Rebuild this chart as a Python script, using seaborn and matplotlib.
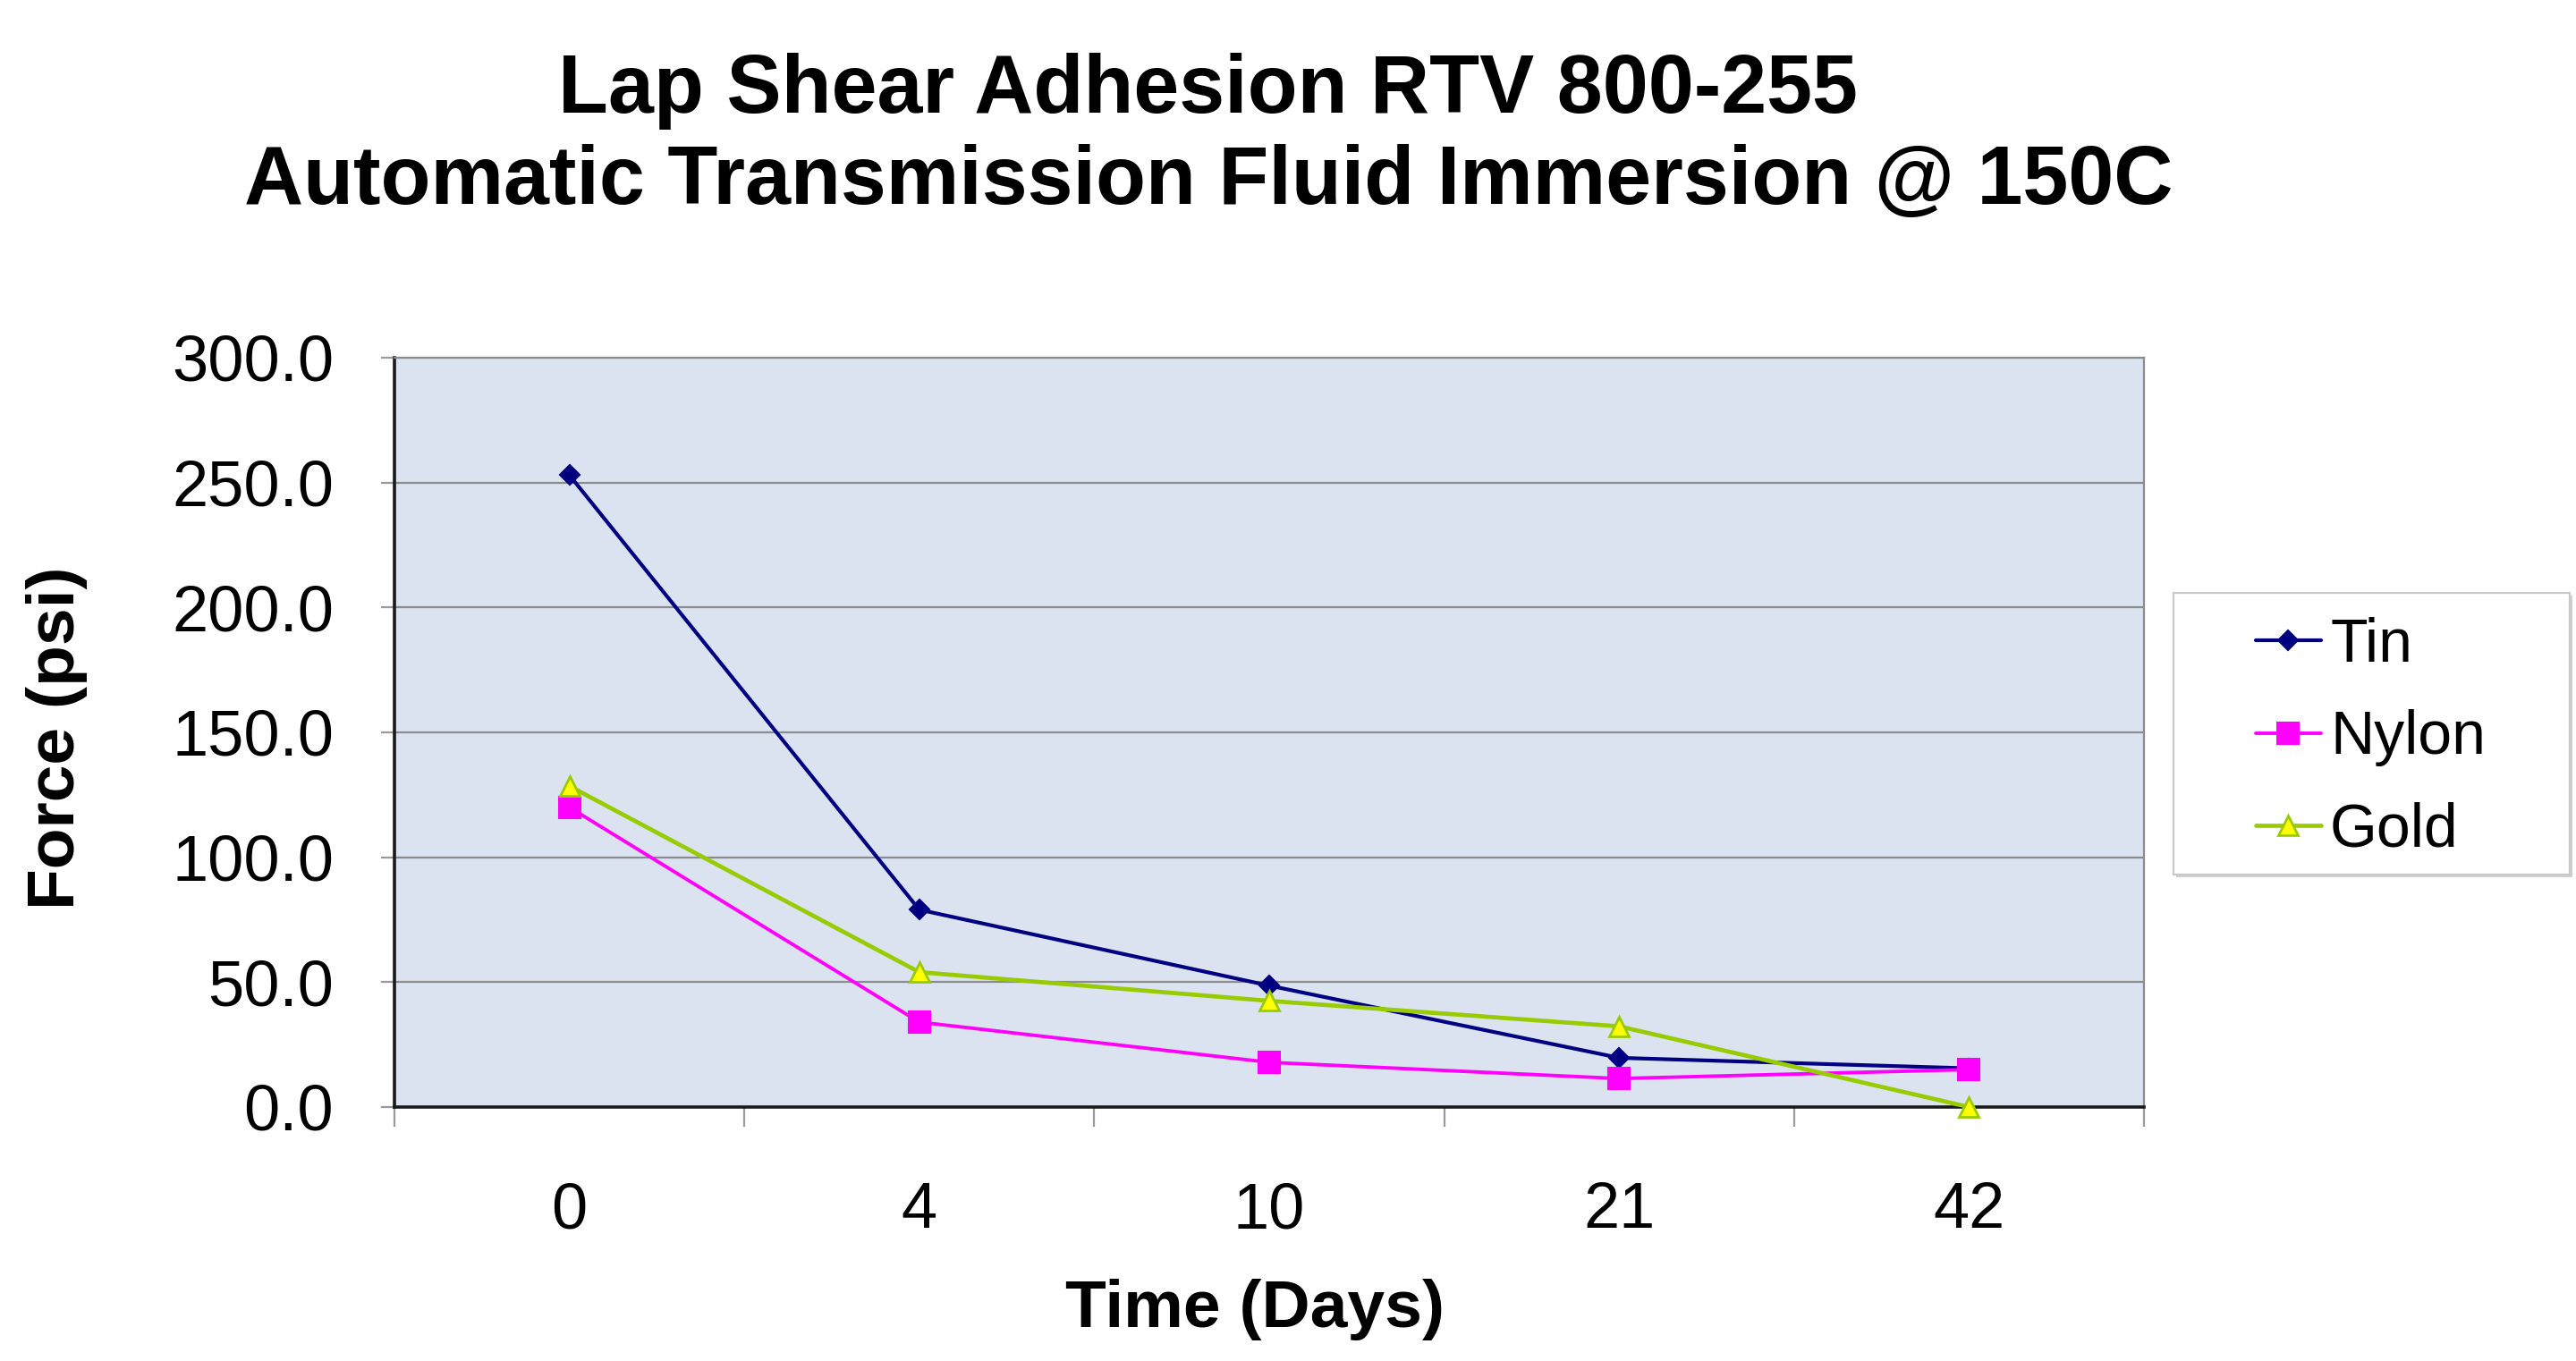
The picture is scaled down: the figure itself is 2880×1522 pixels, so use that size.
import numpy as np
import pandas as pd
import matplotlib
matplotlib.use("Agg")
import matplotlib.pyplot as plt
import seaborn as sns
from matplotlib.patches import Rectangle
from matplotlib.ticker import FixedLocator, NullFormatter, FixedFormatter

# ---- data ----
days = ["0", "4", "10", "21", "42"]
tin = [253.0, 79.0, 48.6, 19.7, 15.5]
nylon = [120.0, 34.0, 17.9, 11.4, 15.0]
gold = [128.5, 54.0, 42.5, 32.3, 0.0]
series_names = ["Tin", "Nylon", "Gold"]
y_ticks = [0, 50, 100, 150, 200, 250, 300]
title_text = "Lap Shear Adhesion RTV 800-255\nAutomatic Transmission Fluid Immersion @ 150C"
x_label = "Time (Days)"
y_label = "Force (psi)"

pos = np.arange(len(days))
df = pd.DataFrame({
    "pos": np.tile(pos, 3),
    "force": tin + nylon + gold,
    "series": np.repeat(series_names, len(days)),
})

sns.set_theme(style="white")
plt.rcParams['font.family'] = ['Liberation Sans', 'DejaVu Sans']
plt.rcParams['text.color'] = 'black'

fig = plt.figure(figsize=(14.4, 7.61), dpi=200)
ax = fig.add_axes([0.1531, 0.1866, 0.6792, 0.5506])
ax.set_facecolor('#DAE3EF')

styles = {
    "Tin": dict(color='#000080', marker='D', markersize=5.5, markerfacecolor='#000080',
                markeredgecolor='#000080', linewidth=1.5),
    "Nylon": dict(color='#FF00FF', marker='s', markersize=8.5, markerfacecolor='#FF00FF',
                  markeredgecolor='#FF00FF', linewidth=1.4),
    "Gold": dict(color='#99CC00', marker='^', markersize=8, markerfacecolor='#FFFF00',
                 markeredgecolor='#99CC00', markeredgewidth=1.0, linewidth=1.7),
}
for name in series_names:
    sub = df[df["series"] == name]
    sns.lineplot(data=sub, x="pos", y="force", ax=ax, legend=False, clip_on=False,
                 zorder=3, **styles[name])

ax.set_xlim(-0.5, len(days) - 0.5)
ax.set_ylim(0, 300)
ax.set_xlabel("")
ax.set_ylabel("")

ax.xaxis.set_major_locator(FixedLocator(np.arange(-0.5, len(days), 1.0)))
ax.xaxis.set_major_formatter(NullFormatter())
ax.xaxis.set_minor_locator(FixedLocator(pos))
ax.xaxis.set_minor_formatter(FixedFormatter(days))
ax.tick_params(axis='x', which='major', bottom=True, length=8, width=0.8,
               color='#9a9a9a', direction='out')
ax.tick_params(axis='x', which='minor', bottom=True, length=0, pad=30,
               labelsize=26, labelcolor='black')

ax.set_yticks(y_ticks)
ax.set_yticklabels([f"{v:.1f}" for v in y_ticks])
ax.tick_params(axis='y', left=True, length=5.4, width=0.8, color='#9a9a9a',
               direction='out', pad=19, labelsize=26, labelcolor='black')

ax.set_axisbelow(True)
ax.yaxis.grid(True, color='#8c8c8c', linewidth=0.8)
ax.xaxis.grid(False)

for side in ['left', 'bottom']:
    ax.spines[side].set_color('#1a1a1a')
    ax.spines[side].set_linewidth(1.3)
for side in ['top', 'right']:
    ax.spines[side].set_color('#8c8c8c')
    ax.spines[side].set_linewidth(0.8)

fig.text(0.469, 0.8995, title_text, ha='center', va='center', fontsize=33,
         fontweight='bold', linespacing=1.25, multialignment='center')
fig.text(0.487, 0.038, x_label, ha='center', va='center', fontsize=27, fontweight='bold')
fig.text(0.022, 0.458, y_label, ha='center', va='center', fontsize=27,
         fontweight='bold', rotation=90)

# legend box
bx0, by0 = 2430 / 2880, 1 - 978 / 1522
bw, bh = (2873 - 2430) / 2880, (978 - 663) / 1522
fig.patches.append(Rectangle((bx0 + 0.0012, by0 - 0.002), bw, bh, transform=fig.transFigure,
                             facecolor='#d0d0d0', edgecolor='none', zorder=1))
fig.patches.append(Rectangle((bx0, by0), bw, bh, transform=fig.transFigure,
                             facecolor='white', edgecolor='#c8c8c8', linewidth=0.8, zorder=2))

handles = ax.get_lines()[:3]
leg = fig.legend(handles, series_names, loc='upper left',
                 bbox_to_anchor=(2522 / 2880, 1 - 690 / 1522),
                 frameon=False, fontsize=24.5, handlelength=1.07, handletextpad=0.15,
                 borderpad=0, borderaxespad=0, labelspacing=0.58)
leg.set_zorder(5)

fig.savefig("out.png", dpi=200)
